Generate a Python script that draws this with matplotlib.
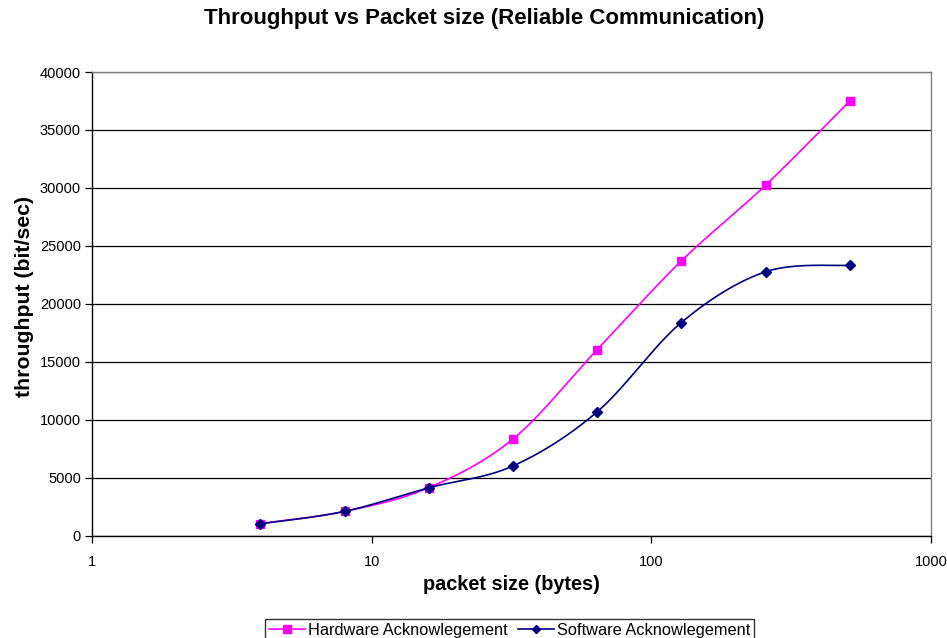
import numpy as np
import matplotlib
matplotlib.use("Agg")
import matplotlib.pyplot as plt
from matplotlib.ticker import FixedLocator, FixedFormatter, NullLocator

plt.rcParams['font.family'] = ['Liberation Sans', 'DejaVu Sans']

packet_size = [4, 8, 16, 32, 64, 128, 256, 512]
hardware_ack = [1030, 2080, 4130, 8330, 16050, 23700, 30230, 37500]
software_ack = [1010, 2080, 4120, 6000, 10670, 18380, 22760, 23320]

x_ticks = [1, 10, 100, 1000]
x_tick_labels = ["1", "10", "100", "1000"]
y_ticks = [0, 5000, 10000, 15000, 20000, 25000, 30000, 35000, 40000]


def smooth_curve(xs, ys, n=40):
    """Cubic Bezier smoothing through every point (log-x space)."""
    lx = np.log10(np.asarray(xs, float))
    y = np.asarray(ys, float)
    pts = np.column_stack([lx, y])
    m = len(pts)
    out = []
    t = np.linspace(0, 1, n)[:, None]
    for i in range(m - 1):
        p0 = pts[i]
        p3 = pts[i + 1]
        prev = pts[i - 1] if i > 0 else pts[i]
        nxt = pts[i + 2] if i + 2 < m else pts[i + 1]
        p1 = p0 + (p3 - prev) / 6.0
        p2 = p3 - (nxt - p0) / 6.0
        seg = ((1 - t) ** 3) * p0 + 3 * ((1 - t) ** 2) * t * p1 \
            + 3 * (1 - t) * t ** 2 * p2 + t ** 3 * p3
        out.append(seg if i == 0 else seg[1:])
    c = np.vstack(out)
    return 10 ** c[:, 0], c[:, 1]


W, H = 947, 638
fig = plt.figure(figsize=(W / 100, H / 100), dpi=100)
ax = fig.add_axes([92 / W, 1 - 535.5 / H, (931 - 92) / W, (535.5 - 72) / H])

hw_color = "#FF00FF"
sw_color = "#000080"

hx, hy = smooth_curve(packet_size, hardware_ack)
sx, sy = smooth_curve(packet_size, software_ack)

ax.plot(hx, hy, color=hw_color, lw=1.2, zorder=3)
ax.plot(packet_size, hardware_ack, ls="none", marker="s", ms=6,
        color=hw_color, zorder=4)
ax.plot(sx, sy, color=sw_color, lw=1.2, zorder=5)
ax.plot(packet_size, software_ack, ls="none", marker="D", ms=5,
        color=sw_color, zorder=6)

# legend proxies
h1, = ax.plot([], [], color=hw_color, lw=1.2, marker="s", ms=6)
h2, = ax.plot([], [], color=sw_color, lw=1.2, marker="D", ms=4.5)

ax.set_xscale("log")
ax.set_xlim(1, 1000)
ax.set_ylim(0, 40000)
ax.xaxis.set_major_locator(FixedLocator(x_ticks))
ax.xaxis.set_major_formatter(FixedFormatter(x_tick_labels))
ax.xaxis.set_minor_locator(NullLocator())
ax.set_yticks(y_ticks)
ax.set_yticklabels([str(v) for v in y_ticks])

ax.grid(axis="y", color="black", lw=0.9)
ax.set_axisbelow(True)

for side in ("left", "bottom"):
    ax.spines[side].set_color("black")
    ax.spines[side].set_linewidth(1.0)
for side in ("top", "right"):
    ax.spines[side].set_color("#808080")
    ax.spines[side].set_linewidth(1.0)

ax.tick_params(axis="both", direction="out", length=5, width=0.9,
               labelsize=10.5, colors="black")
ax.tick_params(axis="x", pad=9)
ax.tick_params(axis="y", pad=3)

fig.text(484 / W, 1 - 18.5 / H, "Throughput vs Packet size (Reliable Communication)",
         fontsize=16, fontweight="bold", ha="center", va="center")

ax.set_xlabel("packet size (bytes)", fontsize=14.3, fontweight="bold",
              va="center", ha="center")
ax.xaxis.set_label_coords(0.5, -(585 - 535.5) / (535.5 - 72))
ax.set_ylabel("throughput (bit/sec)", fontsize=15.3, fontweight="bold",
              va="center", ha="center")
ax.yaxis.set_label_coords((24 - 92) / (931 - 92), (535.5 - 296.5) / (535.5 - 72))

leg = fig.legend([h1, h2], ["Hardware Acknowlegement", "Software Acknowlegement"],
                 loc="lower center", bbox_to_anchor=(509.5 / W, -0.006), ncol=2,
                 fontsize=11.8, frameon=True, fancybox=False,
                 handlelength=2.2, handletextpad=0.2, columnspacing=0.6,
                 borderpad=0.25, borderaxespad=0)
leg.get_frame().set_edgecolor("black")
leg.get_frame().set_linewidth(1.0)

fig.savefig("out.png", dpi=100)
